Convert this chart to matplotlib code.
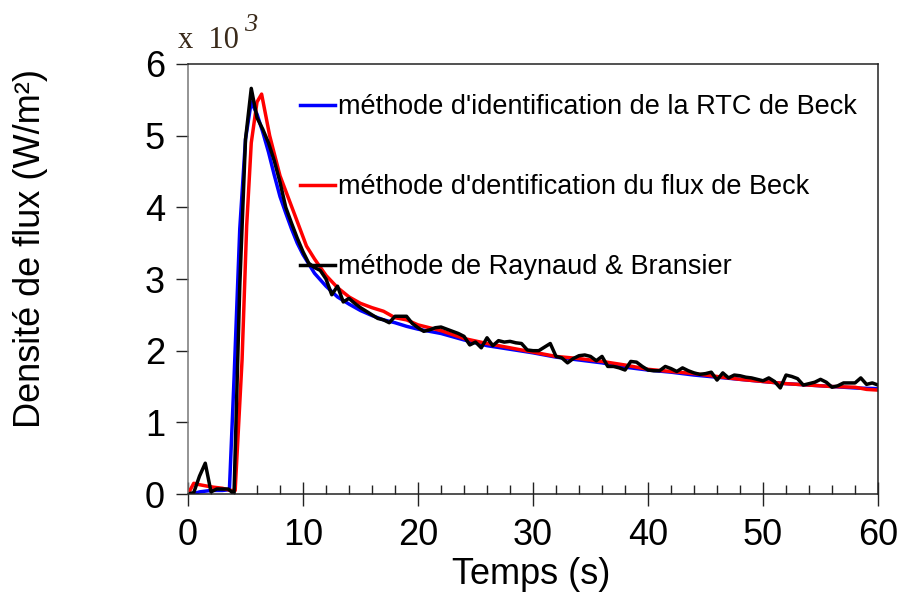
import numpy as np
import matplotlib
matplotlib.use("Agg")
import matplotlib.pyplot as plt
from matplotlib.ticker import MultipleLocator

plt.rcParams["font.family"] = ["Liberation Sans", "DejaVu Sans"]

# flux density in 10^3 W/m^2
t_rtc_beck = [0, 0.4, 1, 2, 3, 3.6, 4.0, 4.5, 5.0, 5.5, 6.0, 6.5, 7, 7.5, 8, 8.5, 9, 9.5,
              10, 11, 12, 13, 14, 15, 16, 17, 18, 19, 20, 22, 24, 26, 28, 30, 32, 34,
              36, 38, 40, 42, 44, 46, 48, 50, 52, 54, 56, 58, 60]
flux_rtc_beck = [0.0, 0.0, 0.03, 0.05, 0.05, 0.06, 1.6, 3.7, 4.95, 5.47, 5.3, 5.05, 4.77,
                 4.45, 4.15, 3.92, 3.7, 3.5, 3.34, 3.08, 2.9, 2.75, 2.65, 2.56, 2.49, 2.43,
                 2.39, 2.34, 2.3, 2.24, 2.15, 2.07, 2.02, 1.97, 1.91, 1.87, 1.83, 1.77, 1.73,
                 1.70, 1.66, 1.63, 1.60, 1.57, 1.54, 1.52, 1.50, 1.48, 1.47]

t_flux_beck = [0, 0.5, 1, 2, 3, 3.7, 4.1, 4.7, 5.1, 5.5, 6.0, 6.4, 7.1, 8.0, 9.2, 10.3, 11,
               12, 13, 14, 15, 16, 17, 18, 19, 20, 22, 24, 26, 28, 30, 32, 34, 36, 38, 40,
               42, 44, 46, 48, 50, 52, 54, 56, 58, 59, 60]
flux_flux_beck = [0.0, 0.15, 0.13, 0.1, 0.08, 0.05, 0.05, 1.87, 3.74, 4.9, 5.47, 5.58, 5.0,
                  4.44, 3.93, 3.46, 3.28, 3.05, 2.88, 2.75, 2.66, 2.6, 2.55, 2.46, 2.43,
                  2.36, 2.28, 2.17, 2.1, 2.04, 1.98, 1.92, 1.89, 1.85, 1.8, 1.74, 1.71, 1.68,
                  1.64, 1.60, 1.57, 1.54, 1.52, 1.5, 1.49, 1.46, 1.45]

t_raynaud = np.arange(0, 60.5, 0.5)
flux_raynaud = [
    0.0, 0.02, 0.25, 0.43, 0.03, 0.07, 0.07, 0.07, 0.0, 2.9,        # 0 - 4.5
    4.95, 5.66, 5.25, 5.09, 4.9, 4.65, 4.35, 4.0, 3.78, 3.57,       # 5 - 9.5
    3.38, 3.22, 3.16, 3.12, 3.0, 2.78, 2.9, 2.68, 2.73, 2.66,       # 10 - 14.5
    2.6, 2.55, 2.5, 2.45, 2.43, 2.39, 2.48, 2.48, 2.48, 2.38,       # 15 - 19.5
    2.32, 2.27, 2.29, 2.32, 2.33, 2.3, 2.27, 2.24, 2.2, 2.08,       # 20 - 24.5
    2.12, 2.04, 2.18, 2.07, 2.14, 2.12, 2.13, 2.11, 2.1, 2.01,      # 25 - 29.5
    2.0, 2.0, 2.05, 2.1, 1.92, 1.9, 1.83, 1.89, 1.93, 1.94,         # 30 - 34.5
    1.92, 1.86, 1.92, 1.78, 1.78, 1.76, 1.73, 1.85, 1.84, 1.78,     # 35 - 39.5
    1.73, 1.72, 1.72, 1.78, 1.75, 1.71, 1.76, 1.72, 1.69, 1.67,     # 40 - 44.5
    1.68, 1.70, 1.59, 1.69, 1.62, 1.66, 1.65, 1.63, 1.62, 1.60,     # 45 - 49.5
    1.58, 1.62, 1.57, 1.48, 1.66, 1.64, 1.61, 1.52, 1.54, 1.56,     # 50 - 54.5
    1.6, 1.56, 1.49, 1.51, 1.55, 1.55, 1.55, 1.62, 1.53, 1.55,      # 55 - 59.5
    1.52,                                                           # 60
]

labels = [
    "méthode d'identification de la RTC de Beck",
    "méthode d'dentification du flux de Beck",
    "méthode de Raynaud & Bransier",
]

fig = plt.figure(figsize=(9, 5.92), dpi=100)
ax = fig.add_axes([0.2089, 0.1655, 0.7667, 0.7264])

ax.plot(t_rtc_beck, flux_rtc_beck, color="#0000ff", lw=2.5, label=labels[0])
ax.plot(t_flux_beck, flux_flux_beck, color="#ff0000", lw=2.5, label=labels[1])
ax.plot(t_raynaud, flux_raynaud, color="black", lw=2.5, label=labels[2])

ax.set_xlim(0, 60)
ax.set_ylim(0, 6)
ax.xaxis.set_major_locator(MultipleLocator(10))
ax.xaxis.set_minor_locator(MultipleLocator(2))
ax.yaxis.set_major_locator(MultipleLocator(1))

ax.tick_params(axis="x", which="major", direction="inout", length=17, width=1,
               labelsize=26, pad=9, color="#222222")
ax.tick_params(axis="x", which="minor", direction="in", length=6.5, width=1,
               color="#222222")
ax.tick_params(axis="y", which="major", direction="out", length=8.6, width=1,
               labelsize=26, pad=8, color="#222222")
for side in ["top", "right", "bottom"]:
    ax.spines[side].set_color("#222222")
ax.spines["left"].set_color("#777777")
for sp in ax.spines.values():
    sp.set_linewidth(1.1)

ax.set_xlabel("Temps (s)", fontsize=26)
ax.set_ylabel("Densité de flux (W/m²)", fontsize=26)
ax.xaxis.set_label_coords(0.497, -0.147)
ax.yaxis.set_label_coords(-0.203, 0.572)

# scale factor written above the y axis
fig.text(0.198, 0.919, "x  10", fontsize=22, family="Liberation Serif", color="#3a2a1a")
fig.text(0.271, 0.947, "3", fontsize=19, family="Liberation Serif", style="italic",
         color="#3a2a1a")

ax.legend(loc="upper left", bbox_to_anchor=(0.162, 0.93), frameon=False,
          fontsize=19.5, handlelength=1.3, handletextpad=0.1, labelspacing=2.0,
          borderpad=0, borderaxespad=0)

fig.savefig("out.png", dpi=100)
